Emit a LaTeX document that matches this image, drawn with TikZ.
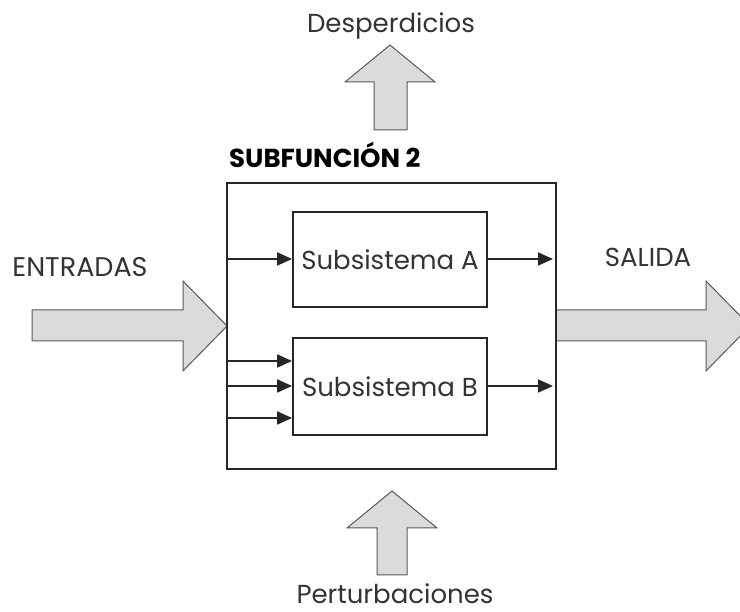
\documentclass[tikz,border=0pt]{standalone}
\usepackage{fontspec}
\setmainfont{Poppins}
\usetikzlibrary{arrows.meta, positioning}

\tikzset{
    box/.style={draw=black!85, line width=1.8pt, rectangle, inner sep=0pt},
    flow/.style={draw=black!85, line width=1.8pt, -{Triangle[length=15pt,width=13pt]}},
    bigarrow/.style={draw=black!65, fill=black!14, line width=1pt, line join=miter},
    lbl/.style={text=black!80, inner sep=0pt, anchor=base, font=\fontsize{26}{30}\selectfont},
}

\begin{document}
\begin{tikzpicture}[x=1pt, y=-1pt]
    \useasboundingbox (0,0) rectangle (740,612);
    \clip (0,0) rectangle (740,612);

    % big grey arrows
    \draw[bigarrow] (32,310) -- (183,310) -- (183,281) -- (227,326)
        -- (183,371) -- (183,341) -- (32,341) -- cycle;
    \draw[bigarrow] (556,310) -- (706,310) -- (706,281) -- (750,326)
        -- (706,371) -- (706,341) -- (556,341) -- cycle;
    \draw[bigarrow] (374,130) -- (374,82) -- (345,82) -- (390,45)
        -- (435,82) -- (407,82) -- (407,130) -- cycle;
    \draw[bigarrow] (377,575) -- (377,528) -- (347,528) -- (392,491)
        -- (437,528) -- (407,528) -- (407,575) -- cycle;

    % boxes
    \node[box, minimum width=329, minimum height=286] (sub2) at (391.5,326) {};
    \node[box, minimum width=194, minimum height=95, text=black!80,
        font=\fontsize{26}{30}\selectfont] (subA) at (390,259.5) {Subsistema A};
    \node[box, minimum width=194, minimum height=97, text=black!80,
        font=\fontsize{26}{30}\selectfont] (subB) at (390,386.5) {Subsistema B};

    % labels
    \node[lbl, font=\fontsize{27}{30}\selectfont] (entradas) at (80,277) {ENTRADAS};
    \node[lbl] (salida) at (648,267) {SALIDA};
    \node[lbl] (desp) at (391,33) {Desperdicios};
    \node[lbl, text depth=0pt] (pert) at (395,604) {Perturbaciones};
    \node[lbl, anchor=base west, text=black, font=\fontsize{26}{30}\bfseries]
        (titulo) at (229,168) {SUBFUNCIÓN 2};

    % small arrows
    \foreach \y/\n in {259/inA, 361/inB1, 386/inB2, 418/inB3}
        \coordinate (\n) at (sub2.west |- 0,\y);
    \coordinate (outA) at (553,259);
    \coordinate (outB) at (553,386);

    \draw[flow] (inA) -- (subA.west |- inA);
    \foreach \n in {inB1, inB2, inB3}
        \draw[flow] (\n) -- (subB.west |- \n);
    \draw[flow] (subA.east |- outA) -- (outA);
    \draw[flow] (subB.east |- outB) -- (outB);
\end{tikzpicture}
\end{document}
